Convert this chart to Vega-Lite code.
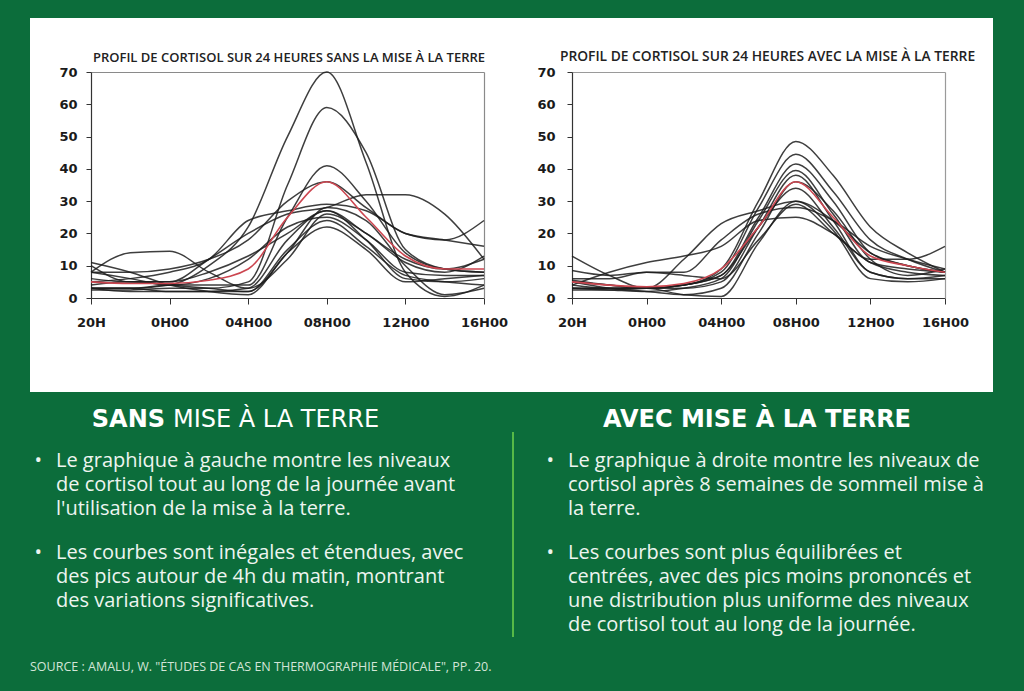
{
  "$schema": "https://vega.github.io/schema/vega-lite/v6.json",
  "background": "#0c6d3b",
  "padding": {"left": 30, "top": 18, "right": 31, "bottom": 20},
  "autosize": {"type": "pad"},
  "datasets": {
    "sans": [
      {"h": 0, "r": 5, "a": 3, "b": 2.5, "c": 3, "d": 8, "e": 10, "f": 8, "g": 5, "i": 8, "j": 3, "k": 4, "l": 11, "m": 6, "n": 3},
      {"h": 2, "r": 4.5, "a": 3, "b": 2.5, "c": 3, "d": 8, "e": 5, "f": 14, "g": 6, "i": 6, "j": 3, "k": 5, "l": 8, "m": 5, "n": 2},
      {"h": 4, "r": 4.5, "a": 4, "b": 3, "c": 4, "d": 9, "e": 5, "f": 14.5, "g": 8, "i": 4, "j": 2, "k": 4, "l": 4, "m": 5, "n": 2},
      {"h": 6, "r": 5.5, "a": 10, "b": 3, "c": 4, "d": 12, "e": 12, "f": 8, "g": 12, "i": 6, "j": 2, "k": 3, "l": 2, "m": 8, "n": 2},
      {"h": 8, "r": 9, "a": 22, "b": 5, "c": 4, "d": 18, "e": 20, "f": 3, "g": 24, "i": 12, "j": 3, "k": 2, "l": 1, "m": 13, "n": 2},
      {"h": 10, "r": 25, "a": 50, "b": 35, "c": 25, "d": 30, "e": 26, "f": 12, "g": 27, "i": 22, "j": 18, "k": 15, "l": 14, "m": 20, "n": 14},
      {"h": 12, "r": 36, "a": 75, "b": 59, "c": 41, "d": 36, "e": 28, "f": 26, "g": 29, "i": 25, "j": 27, "k": 24, "l": 22, "m": 27, "n": 28},
      {"h": 14, "r": 25, "a": 42, "b": 45, "c": 30, "d": 28, "e": 32, "f": 20, "g": 27, "i": 18, "j": 18, "k": 16, "l": 15, "m": 20, "n": 24},
      {"h": 16, "r": 13, "a": 8, "b": 15, "c": 14, "d": 20, "e": 32, "f": 11, "g": 20, "i": 8, "j": 6, "k": 7, "l": 5, "m": 12, "n": 10},
      {"h": 18, "r": 9, "a": 0.5, "b": 9, "c": 9, "d": 18, "e": 26, "f": 8, "g": 18, "i": 7, "j": 5, "k": 5, "l": 6, "m": 9, "n": 1},
      {"h": 20, "r": 9, "a": 4, "b": 8, "c": 8, "d": 16, "e": 12, "f": 13, "g": 24, "i": 7, "j": 6, "k": 4, "l": 7, "m": 12, "n": 3}
    ],
    "avec": [
      {"h": 0, "r": 5, "a": 4, "b": 3, "c": 5, "d": 3, "e": 5.5, "f": 2.5, "g": 13, "i": 8.5, "j": 4, "k": 6, "l": 3, "m": 5},
      {"h": 2, "r": 4, "a": 3, "b": 3, "c": 4, "d": 2.5, "e": 4, "f": 2.5, "g": 7, "i": 7, "j": 8, "k": 6, "l": 3, "m": 3},
      {"h": 4, "r": 3.5, "a": 3, "b": 3, "c": 3, "d": 2, "e": 3, "f": 3, "g": 3, "i": 8, "j": 11, "k": 8, "l": 3, "m": 2},
      {"h": 6, "r": 4.5, "a": 4, "b": 4, "c": 4, "d": 3, "e": 3, "f": 4, "g": 12, "i": 8, "j": 13, "k": 7, "l": 1, "m": 1},
      {"h": 8, "r": 9, "a": 9, "b": 8, "c": 7, "d": 6, "e": 5, "f": 7, "g": 23, "i": 18, "j": 16, "k": 6, "l": 0.5, "m": 3},
      {"h": 10, "r": 22, "a": 30, "b": 28, "c": 25, "d": 24, "e": 22, "f": 22, "g": 27, "i": 26, "j": 24, "k": 18, "l": 17, "m": 20},
      {"h": 12, "r": 36, "a": 48.5, "b": 44.5, "c": 41.5, "d": 39.5, "e": 38, "f": 34, "g": 30, "i": 28, "j": 25, "k": 29, "l": 30, "m": 36},
      {"h": 14, "r": 25, "a": 38, "b": 33, "c": 30, "d": 26, "e": 24, "f": 22, "g": 24, "i": 24, "j": 20, "k": 20, "l": 21, "m": 27},
      {"h": 16, "r": 13, "a": 22, "b": 18, "c": 14, "d": 11, "e": 8, "f": 8, "g": 14, "i": 16, "j": 12, "k": 11, "l": 6, "m": 12},
      {"h": 18, "r": 10, "a": 14, "b": 12, "c": 10, "d": 9, "e": 6, "f": 6, "g": 10, "i": 12, "j": 12, "k": 8, "l": 5, "m": 7},
      {"h": 20, "r": 8, "a": 8, "b": 8, "c": 8, "d": 8, "e": 6, "f": 7, "g": 8, "i": 9, "j": 16, "k": 7, "l": 6, "m": 9}
    ]
  },
  "config": {
    "view": {"stroke": null},
    "font": "Open Sans",
    "axis": {
      "grid": false,
      "labelFont": "DejaVu Sans",
      "labelFontWeight": "bold",
      "labelFontSize": 13,
      "labelColor": "#1a1a1a",
      "domainColor": "#333333",
      "tickColor": "#333333",
      "domainWidth": 1.2
    }
  },
  "title": {
    "text": "SOURCE : AMALU, W. \"ÉTUDES DE CAS EN THERMOGRAPHIE MÉDICALE\", PP. 20.",
    "orient": "bottom",
    "anchor": "start",
    "fontSize": 12.5,
    "fontWeight": "normal",
    "font": "Open Sans",
    "color": "#d3e5d8",
    "offset": 24
  },
  "spacing": 16,
  "vconcat": [
    {
      "spacing": 0,
      "hconcat": [
        {
          "width": 498,
          "height": 374,
          "view": {"fill": "white", "stroke": null},
          "title": {"text": "PROFIL DE CORTISOL SUR 24 HEURES SANS LA MISE À LA TERRE", "fontSize": 13, "fontWeight": 600, "color": "#222222", "offset": -57, "baseline": "alphabetic", "dx": 10, "font": "Open Sans"},
          "data": {"name": "sans"},
          "layer": [
            {
              "transform": [{"fold": ["a", "b", "c", "d", "e", "f", "g", "i", "j", "k", "l", "m", "n"], "as": ["serie", "val"]}],
              "mark": {"type": "line", "interpolate": "monotone", "color": "#1c1c1c", "strokeWidth": 1.5, "opacity": 0.85},
              "encoding": {
                "x": {"field": "h", "type": "quantitative", "title": null, "scale": {"domain": [0, 20], "range": [61, 454], "nice": false, "zero": false},
                  "axis": {"orient": "bottom", "offset": -94, "values": [0, 4, 8, 12, 16, 20], "labelExpr": "['20H','0H00','04H00','08H00','12H00','16H00'][datum.value / 4]", "tickSize": 6, "labelPadding": 12, "labelFlush": false}},
                "y": {"field": "val", "type": "quantitative", "title": null, "scale": {"domain": [0, 70], "range": [280, 54], "nice": false, "clamp": true},
                  "axis": {"orient": "left", "offset": -61, "values": [0, 10, 20, 30, 40, 50, 60, 70], "tickSize": 5, "labelPadding": 9}},
                "detail": {"field": "serie", "type": "nominal"}
              }
            },
            {
              "mark": {"type": "line", "interpolate": "monotone", "color": "#cc4650", "strokeWidth": 1.6},
              "encoding": {
                "x": {"field": "h", "type": "quantitative", "title": null, "axis": {"orient": "top", "offset": -54, "labels": false, "ticks": false, "domainColor": "#8a8a8a"}},
                "y": {"field": "r", "type": "quantitative", "title": null, "axis": {"orient": "right", "offset": -44, "labels": false, "ticks": false, "domainColor": "#8a8a8a"}}
              }
            }
          ],
          "resolve": {"axis": {"x": "independent", "y": "independent"}}
        },
        {
          "width": 465,
          "height": 374,
          "view": {"fill": "white", "stroke": null},
          "title": {"text": "PROFIL DE CORTISOL SUR 24 HEURES AVEC LA MISE À LA TERRE", "fontSize": 13.8, "fontWeight": 600, "color": "#222222", "offset": -57, "baseline": "alphabetic", "dx": 7, "font": "Open Sans"},
          "data": {"name": "avec"},
          "layer": [
            {
              "transform": [{"fold": ["a", "b", "c", "d", "e", "f", "g", "i", "j", "k", "l", "m"], "as": ["serie", "val"]}],
              "mark": {"type": "line", "interpolate": "monotone", "color": "#1c1c1c", "strokeWidth": 1.5, "opacity": 0.85},
              "encoding": {
                "x": {"field": "h", "type": "quantitative", "title": null, "scale": {"domain": [0, 20], "range": [44, 417], "nice": false, "zero": false},
                  "axis": {"orient": "bottom", "offset": -94, "values": [0, 4, 8, 12, 16, 20], "labelExpr": "['20H','0H00','04H00','08H00','12H00','16H00'][datum.value / 4]", "tickSize": 6, "labelPadding": 12, "labelFlush": false}},
                "y": {"field": "val", "type": "quantitative", "title": null, "scale": {"domain": [0, 70], "range": [280, 54], "nice": false, "clamp": true},
                  "axis": {"orient": "left", "offset": -44, "values": [0, 10, 20, 30, 40, 50, 60, 70], "tickSize": 5, "labelPadding": 12}},
                "detail": {"field": "serie", "type": "nominal"}
              }
            },
            {
              "mark": {"type": "line", "interpolate": "monotone", "color": "#cc4650", "strokeWidth": 1.6},
              "encoding": {
                "x": {"field": "h", "type": "quantitative", "title": null, "axis": {"orient": "top", "offset": -54, "labels": false, "ticks": false, "domainColor": "#9a9a9a"}},
                "y": {"field": "r", "type": "quantitative", "title": null, "axis": {"orient": "right", "offset": -48, "labels": false, "ticks": false, "domainColor": "#9a9a9a"}}
              }
            }
          ],
          "resolve": {"axis": {"x": "independent", "y": "independent"}}
        }
      ]
    },
    {
      "spacing": 41,
      "hconcat": [
        {
          "spacing": 18,
          "vconcat": [
            {
              "spacing": 8,
              "hconcat": [
                {"width": 135, "height": 1, "data": {"values": []}, "mark": "point",
                  "title": {"text": "SANS", "anchor": "end", "frame": "group", "fontSize": 24, "fontWeight": "bold", "color": "#ffffff", "font": "DejaVu Sans", "offset": 0}},
                {"width": 1, "height": 1, "data": {"values": []}, "mark": "point",
                  "title": {"text": "MISE À LA TERRE", "anchor": "start", "frame": "group", "fontSize": 24, "fontWeight": "normal", "color": "#ffffff", "font": "DejaVu Sans", "offset": 0}}
              ]
            },
            {
              "spacing": 23,
              "vconcat": [
                {
                  "spacing": 14,
                  "hconcat": [
                    {"width": 12, "height": 1, "data": {"values": []}, "mark": "point",
                      "title": {"text": "•", "anchor": "end", "frame": "group", "fontSize": 20, "fontWeight": "normal", "color": "#eef5f0", "font": "Open Sans", "offset": 48}},
                    {"width": 415, "height": 1, "data": {"values": []}, "mark": "point",
                      "title": {"text": ["Le graphique à gauche montre les niveaux", "de cortisol tout au long de la journée avant", "l'utilisation de la mise à la terre."], "anchor": "start", "frame": "group", "fontSize": 20, "lineHeight": 24, "fontWeight": "normal", "color": "#eef5f0", "font": "Open Sans", "offset": 0}}
                  ]
                },
                {
                  "spacing": 14,
                  "hconcat": [
                    {"width": 12, "height": 1, "data": {"values": []}, "mark": "point",
                      "title": {"text": "•", "anchor": "end", "frame": "group", "fontSize": 20, "fontWeight": "normal", "color": "#eef5f0", "font": "Open Sans", "offset": 48}},
                    {"width": 415, "height": 1, "data": {"values": []}, "mark": "point",
                      "title": {"text": ["Les courbes sont inégales et étendues, avec", "des pics autour de 4h du matin, montrant", "des variations significatives."], "anchor": "start", "frame": "group", "fontSize": 20, "lineHeight": 24, "fontWeight": "normal", "color": "#eef5f0", "font": "Open Sans", "offset": 0}}
                  ]
                }
              ]
            }
          ]
        },
        {
          "spacing": 30,
          "hconcat": [
            {"width": 2, "height": 205, "view": {"fill": "#57b947", "stroke": null}, "data": {"values": []}, "mark": "point"},
            {
              "spacing": 18,
              "vconcat": [
                {"width": 426, "height": 1, "data": {"values": []}, "mark": "point",
                  "title": {"text": "AVEC MISE À LA TERRE", "anchor": "middle", "frame": "group", "fontSize": 24, "fontWeight": "bold", "color": "#ffffff", "font": "DejaVu Sans", "offset": 0}},
                {
                  "spacing": 23,
                  "vconcat": [
                    {
                      "spacing": 14,
                      "hconcat": [
                        {"width": 10, "height": 1, "data": {"values": []}, "mark": "point",
                          "title": {"text": "•", "anchor": "end", "frame": "group", "fontSize": 20, "fontWeight": "normal", "color": "#eef5f0", "font": "Open Sans", "offset": 48}},
                        {"width": 417, "height": 1, "data": {"values": []}, "mark": "point",
                          "title": {"text": ["Le graphique à droite montre les niveaux de", "cortisol après 8 semaines de sommeil mise à", "la terre."], "anchor": "start", "frame": "group", "fontSize": 20, "lineHeight": 24, "fontWeight": "normal", "color": "#eef5f0", "font": "Open Sans", "offset": 0}}
                      ]
                    },
                    {
                      "spacing": 14,
                      "hconcat": [
                        {"width": 10, "height": 1, "data": {"values": []}, "mark": "point",
                          "title": {"text": "•", "anchor": "end", "frame": "group", "fontSize": 20, "fontWeight": "normal", "color": "#eef5f0", "font": "Open Sans", "offset": 72}},
                        {"width": 417, "height": 1, "data": {"values": []}, "mark": "point",
                          "title": {"text": ["Les courbes sont plus équilibrées et", "centrées, avec des pics moins prononcés et", "une distribution plus uniforme des niveaux", "de cortisol tout au long de la journée."], "anchor": "start", "frame": "group", "fontSize": 20, "lineHeight": 24, "fontWeight": "normal", "color": "#eef5f0", "font": "Open Sans", "offset": 0}}
                      ]
                    }
                  ]
                }
              ]
            }
          ]
        }
      ]
    }
  ]
}
